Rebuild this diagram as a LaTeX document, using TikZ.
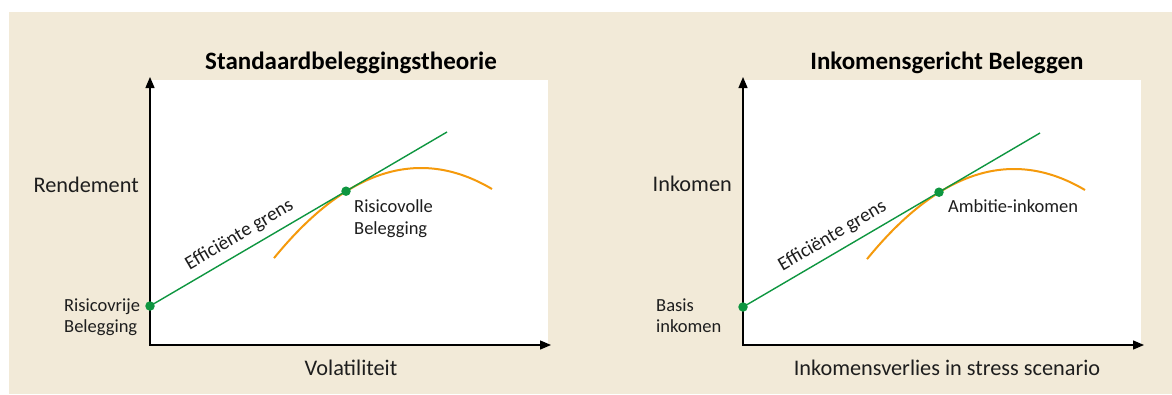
\documentclass[tikz,border=0pt]{standalone}
\usepackage{fontspec}
\setmainfont{Carlito}
\usetikzlibrary{arrows.meta}
\definecolor{bgbeige}{HTML}{F2EAD8}
\definecolor{effgreen}{HTML}{0E9640}
\definecolor{curveorange}{HTML}{F59A0C}
\definecolor{txt}{HTML}{1E1E1E}
\begin{document}
\begin{tikzpicture}[x=1pt,y=-1pt,
  axes/.style={line width=1.3pt, {Triangle[length=11pt,width=9pt]}-{Triangle[length=11pt,width=9pt]}},
  frontier/.style={effgreen, line width=1.4pt},
  setcurve/.style={curveorange, line width=2pt},
  dotnode/.style={circle, fill=effgreen, inner sep=0pt, minimum size=9.5pt},
  bigtxt/.style={font=\fontsize{22.3}{24}\selectfont, text=txt, inner sep=0pt},
  smalltxt/.style={font=\fontsize{18.5}{21.5}\selectfont, text=txt, inner sep=0pt},
  slopetxt/.style={font=\fontsize{19.6}{22}\selectfont, text=txt, inner sep=0pt},
  titletxt/.style={font=\fontsize{25}{27}\selectfont\bfseries, text=black, inner sep=0pt},
]
\useasboundingbox (0,0) rectangle (1172,394);
\fill[white] (0,0) rectangle (1172,394);
\fill[bgbeige] (9,12) rectangle (1172,394);

% ---------- left panel ----------
\fill[white] (150,80) rectangle (548,345);
\coordinate (LO) at (150,345);
\coordinate (Lytip) at (150,77);
\coordinate (Lxtip) at (551,345);
\draw[axes] (Lytip) -- (LO) -- (Lxtip);
\coordinate (Lrf) at (150,306);
\coordinate (Lrv) at (346,191.2);
\coordinate (Lfe) at (447,132);
\draw[setcurve] plot[domain=-147:71, samples=80, variable=\t] ({421+\t}, {168+(0.06458*\t)^2});
\draw[frontier] (Lrf) -- (Lfe);
\node[dotnode] (Lrfdot) at (Lrf) {};
\node[dotnode] (Lrvdot) at (Lrv) {};
\node[titletxt, anchor=base] (Ltitle) at (351,69.5) {Standaardbeleggingstheorie};
\node[bigtxt, anchor=base east] (Lylab) at (139,192) {Rendement};
\node[bigtxt, anchor=base] (Lxlab) at (351,375) {Volatiliteit};
\node[smalltxt, anchor=base west] (Lrf1) at (64,311) {Risicovrije};
\node[smalltxt, anchor=base west] (Lrf2) at (64,332) {Belegging};
\node[smalltxt, anchor=base west] (Lrv1) at (354,212) {Risicovolle};
\node[smalltxt, anchor=base west] (Lrv2) at (354,234) {Belegging};
\node[slopetxt, anchor=base, rotate=30.4] (Lgrens) at (242,239.5) {Efficiënte grens};

% ---------- right panel ----------
\fill[white] (743,80) rectangle (1141,345);
\coordinate (RO) at (743,345);
\coordinate (Rytip) at (743,77);
\coordinate (Rxtip) at (1144,345);
\draw[axes] (Rytip) -- (RO) -- (Rxtip);
\coordinate (Rrf) at (743,307);
\coordinate (Rrv) at (939,192.2);
\coordinate (Rfe) at (1040,133);
\draw[setcurve] plot[domain=-147:71, samples=80, variable=\t] ({1014+\t}, {169+(0.06458*\t)^2});
\draw[frontier] (Rrf) -- (Rfe);
\node[dotnode] (Rrfdot) at (Rrf) {};
\node[dotnode] (Rrvdot) at (Rrv) {};
\node[titletxt, anchor=base] (Rtitle) at (947,69.5) {Inkomensgericht Beleggen};
\node[bigtxt, anchor=base east] (Rylab) at (732,191) {Inkomen};
\node[bigtxt, anchor=base] (Rxlab) at (947,375) {Inkomensverlies in stress scenario};
\node[smalltxt, anchor=base west] (Rrf1) at (656,311) {Basis};
\node[smalltxt, anchor=base west] (Rrf2) at (656,332) {inkomen};
\node[smalltxt, anchor=base west] (Rrv1) at (948,212) {Ambitie-inkomen};
\node[slopetxt, anchor=base, rotate=30.4] (Rgrens) at (835,240.5) {Efficiënte grens};
\end{tikzpicture}
\end{document}
